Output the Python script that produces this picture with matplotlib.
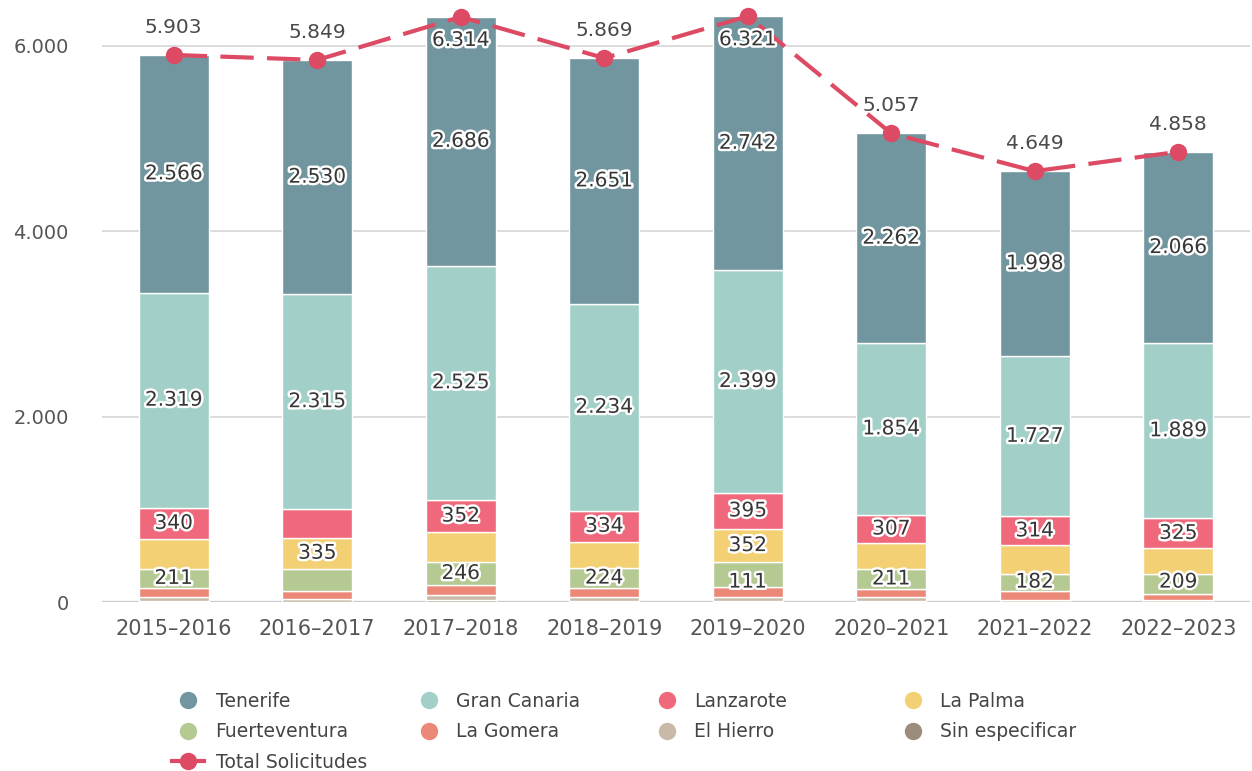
#!/usr/bin/env python
# -*- coding: utf-8 -*-
"""Solicitudes por isla y curso: barras apiladas + línea de total."""
import matplotlib
matplotlib.use("Agg")
import matplotlib.pyplot as plt
import matplotlib.patheffects as pe
from matplotlib.lines import Line2D

plt.rcParams["font.family"] = ["DejaVu Sans"]

cursos = ["2015–2016", "2016–2017", "2017–2018", "2018–2019",
          "2019–2020", "2020–2021", "2021–2022", "2022–2023"]

tenerife = [2566, 2530, 2686, 2651, 2742, 2262, 1998, 2066]
gran_canaria = [2319, 2315, 2525, 2234, 2399, 1854, 1727, 1889]
lanzarote = [340, 310, 352, 334, 395, 307, 314, 325]
la_palma = [318, 335, 320, 280, 352, 280, 310, 280]
fuerteventura = [211, 235, 246, 224, 268, 211, 182, 209]
la_gomera = [96, 95, 108, 90, 111, 90, 95, 70]
el_hierro = [45, 25, 55, 45, 40, 40, 18, 15]
sin_especificar = [8, 4, 22, 11, 14, 13, 5, 4]
total = [5903, 5849, 6314, 5869, 6321, 5057, 4649, 4858]

# etiquetas que se muestran en cada barra (1 = visible)
show_tenerife = [1, 1, 1, 1, 1, 1, 1, 1]
show_gran_canaria = [1, 1, 1, 1, 1, 1, 1, 1]
show_lanzarote = [1, 0, 1, 1, 1, 1, 1, 1]
show_la_palma = [0, 1, 0, 0, 1, 0, 0, 0]
show_fuerteventura = [1, 0, 1, 1, 0, 1, 1, 1]
show_la_gomera = [0, 0, 0, 0, 1, 0, 0, 0]

series = [
    ("Sin especificar", sin_especificar, "#9c8c7b", None),
    ("El Hierro", el_hierro, "#c9b9a7", None),
    ("La Gomera", la_gomera, "#ec8878", show_la_gomera),
    ("Fuerteventura", fuerteventura, "#b4ca92", show_fuerteventura),
    ("La Palma", la_palma, "#f2d073", show_la_palma),
    ("Lanzarote", lanzarote, "#f0687b", show_lanzarote),
    ("Gran Canaria", gran_canaria, "#a2d0c9", show_gran_canaria),
    ("Tenerife", tenerife, "#72969f", show_tenerife),
]
LINE_COLOR = "#dc4a63"
TEXT = "#555555"


def fmt(v):
    return f"{v:,.0f}".replace(",", ".")


W, H = 1252, 771
fig = plt.figure(figsize=(W / 100, H / 100), dpi=100)
ax = fig.add_axes([102 / W, 1 - 602 / H, (1250 - 102) / W, (602 - 15) / H])

x = list(range(len(cursos)))
bottom = [0] * len(cursos)
colors = {}
for name, vals, color, show in series:
    ax.bar(x, vals, bottom=bottom, width=0.49, color=color,
           edgecolor="white", linewidth=1.0, zorder=2)
    colors[name] = color
    if show is not None:
        for i, v in enumerate(vals):
            if show[i]:
                yc = max(bottom[i] + v / 2, 215)
                ax.text(i, yc, fmt(v), ha="center", va="center",
                        fontsize=14.5, color="#363636", zorder=5,
                        path_effects=[pe.withStroke(linewidth=3.5,
                                                    foreground="white")])
    bottom = [b + v for b, v in zip(bottom, vals)]

ax.plot(x, total, color=LINE_COLOR, lw=3, dashes=(8, 3.2),
        marker="o", ms=11.5, zorder=6, clip_on=False)

ymax = 6334
for i, v in enumerate(total):
    inside = v > 6100
    ax.annotate(fmt(v), (i, v), xytext=(0, -17 if inside else 20),
                textcoords="offset points", ha="center", va="center",
                fontsize=14.5, color="#363636" if inside else "#4a4a4a",
                zorder=7,
                path_effects=[pe.withStroke(linewidth=3.5, foreground="white")]
                if inside else None)

ax.set_xlim(-0.5, len(cursos) - 0.5)
ax.set_ylim(0, ymax)
ax.set_yticks([0, 2000, 4000, 6000])
ax.set_yticklabels([fmt(t) for t in [0, 2000, 4000, 6000]])
ax.set_xticks(x)
ax.set_xticklabels(cursos)
ax.tick_params(axis="y", length=0, pad=24, labelsize=14, labelcolor=TEXT)
ax.tick_params(axis="x", length=0, pad=12, labelsize=15, labelcolor=TEXT)
for s in ax.spines.values():
    s.set_visible(False)
ax.yaxis.grid(True, color="#d9d9d9", lw=1.3, zorder=0)
ax.set_axisbelow(True)
ax.axhline(0, color="#cccccc", lw=2.4, zorder=1)

# leyenda en 4 columnas colocadas a mano
def dot(c):
    return Line2D([], [], ls="none", marker="o", ms=11.5, color=c)


columns = [
    [("Tenerife", dot(colors["Tenerife"])),
     ("Fuerteventura", dot(colors["Fuerteventura"])),
     ("Total Solicitudes", Line2D([], [], color=LINE_COLOR, lw=3,
                                  marker="o", ms=11.5))],
    [("Gran Canaria", dot(colors["Gran Canaria"])),
     ("La Gomera", dot(colors["La Gomera"]))],
    [("Lanzarote", dot(colors["Lanzarote"])),
     ("El Hierro", dot(colors["El Hierro"]))],
    [("La Palma", dot(colors["La Palma"])),
     ("Sin especificar", dot(colors["Sin especificar"]))],
]
col_x = [172, 413, 651, 897]
for cx, items in zip(col_x, columns):
    fig.legend([h for _, h in items], [n for n, _ in items],
               loc="upper left", bbox_to_anchor=(cx / W, 1 - 692 / H),
               frameon=False, borderpad=0, borderaxespad=0,
               handlelength=1.7, handletextpad=0.62, labelspacing=0.6,
               fontsize=13.5, labelcolor="#444444")

fig.savefig("out.png", dpi=100)
